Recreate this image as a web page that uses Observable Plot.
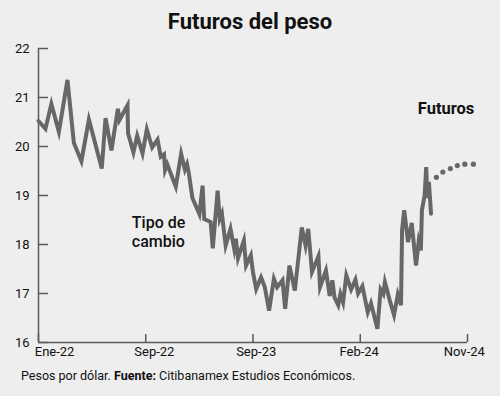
<!DOCTYPE html>
<html>
<head>
<meta charset="utf-8">
<script src="https://cdn.jsdelivr.net/npm/d3@7"></script>
<script src="https://cdn.jsdelivr.net/npm/@observablehq/plot@0.6"></script>
<style>
  html, body { margin: 0; padding: 0; background: #eeeeee; }
  #wrap { position: relative; width: 500px; height: 396px; background: #eeeeee; font-family: Roboto, "Noto Sans", sans-serif; color: #111; overflow: hidden; }
  #title { position: absolute; left: 0; top: 7px; width: 500px; text-align: center; font-size: 22px; font-weight: 700; line-height: 30px; }
  #chart { position: absolute; left: 0; top: 40px; }
  #caption { position: absolute; left: 21px; top: 368px; font-size: 12.5px; line-height: 16px; }
</style>
</head>
<body>
<div id="wrap">
  <div id="title">Futuros del peso</div>
  <div id="chart"></div>
  <div id="caption">Pesos por dólar. <b>Fuente:</b> Citibanamex Estudios Económicos.</div>
</div>
<script>
// Tipo de cambio (pesos por dólar), position along the evenly spaced axis (0 = Ene-22 ... 4 = Nov-24)
const pos = [0, 0.065, 0.12, 0.19, 0.27, 0.33, 0.40, 0.47, 0.59, 0.625, 0.68, 0.74, 0.755, 0.83, 0.835,
  0.885, 0.92, 0.97, 1.01, 1.06, 1.11, 1.14, 1.17, 1.18, 1.20, 1.28, 1.33, 1.365, 1.385, 1.40, 1.435,
  1.50, 1.53, 1.545, 1.605, 1.625, 1.67, 1.69, 1.71, 1.745, 1.79, 1.825, 1.84, 1.86, 1.915, 1.935,
  1.98, 2.00, 2.03, 2.075, 2.11, 2.15, 2.195, 2.225, 2.275, 2.30, 2.34, 2.39, 2.455, 2.49, 2.515,
  2.55, 2.61, 2.625, 2.68, 2.715, 2.74, 2.76, 2.795, 2.815, 2.84, 2.87, 2.915, 2.955, 2.98, 3.02,
  3.07, 3.10, 3.16, 3.19, 3.215, 3.23, 3.275, 3.315, 3.35, 3.38, 3.39, 3.41, 3.445, 3.48, 3.52,
  3.545, 3.565, 3.575, 3.60, 3.615, 3.625, 3.64, 3.66];
const rate = [20.52, 20.36, 20.87, 20.30, 21.36, 20.07, 19.70, 20.55, 19.55, 20.58, 19.92, 20.77, 20.54, 20.84, 20.27,
  19.88, 20.22, 19.86, 20.35, 19.98, 20.14, 19.79, 19.84, 19.52, 19.64, 19.18, 19.85, 19.53, 19.64, 19.48, 18.95,
  18.62, 19.20, 18.52, 18.46, 17.92, 19.10, 18.52, 18.63, 17.98, 18.32, 17.91, 18.12, 17.72, 18.08, 17.57,
  17.78, 17.43, 17.09, 17.33, 17.13, 16.65, 17.30, 17.13, 17.27, 16.69, 17.57, 17.06, 18.35, 17.98, 18.32,
  17.44, 17.76, 17.13, 17.47, 16.95, 17.27, 16.92, 16.76, 16.99, 16.82, 17.37, 17.08, 17.28, 17.00, 17.15,
  16.62, 16.80, 16.28, 17.08, 16.99, 17.23, 16.86, 16.56, 16.98, 16.76, 18.30, 18.70, 18.05, 18.44, 17.57,
  18.06, 17.88, 18.70, 19.00, 19.58, 18.95, 19.28, 18.63];

// Futuros
const futPos = [3.71, 3.77, 3.84, 3.905, 3.975, 4.055];
const futRate = [19.37, 19.48, 19.55, 19.61, 19.64, 19.64];

// Axes
const yTicks = [16, 17, 18, 19, 20, 21, 22];
const xTickPos = [0, 1, 2, 3, 4];
const xLabels = ["Ene-22", "Sep-22", "Sep-23", "Feb-24", "Nov-24"];
const xLabelPos = [0.15, 1.08, 2.03, 2.99, 3.97];

// Annotations
const noteText = ["Tipo de\ncambio", "Futuros"];
const notePos = [0.87, 3.80];
const noteRate = [18.60, 20.67];

const series = pos.map((p, i) => ({p, v: rate[i]}));
const futures = futPos.map((p, i) => ({p, v: futRate[i]}));
const xLab = xLabels.map((t, i) => ({p: xLabelPos[i], t}));
const notes = noteText.map((t, i) => ({p: notePos[i], v: noteRate[i], t}));

const axisColor = "#5a5a5a";
const lineColor = "#676767";

const chart = Plot.plot({
  width: 500,
  height: 325,
  marginLeft: 38,
  marginRight: 33,
  marginTop: 8,
  marginBottom: 23,
  style: {background: "transparent", fontFamily: "Roboto, sans-serif", color: "#111", overflow: "visible"},
  x: {domain: [0, 4], axis: null},
  y: {domain: [16, 22], axis: null},
  marks: [
    Plot.ruleX([0], {stroke: axisColor, strokeWidth: 1.5}),
    Plot.ruleY([16], {stroke: axisColor, strokeWidth: 1.5}),
    Plot.axisY(yTicks, {tickSize: -10, fill: "none", stroke: axisColor, strokeWidth: 1.5, label: null}),
    Plot.axisY(yTicks, {tickSize: 0, tickPadding: 9, fontSize: 13, fill: "#111", label: null}),
    Plot.axisX(xTickPos, {tickSize: -8, fill: "none", stroke: axisColor, strokeWidth: 1.5, label: null}),
    Plot.text(xLab, {x: "p", text: "t", frameAnchor: "bottom", lineAnchor: "top", dy: 4, fontSize: 13, fill: "#111"}),
    Plot.line(series, {x: "p", y: "v", stroke: lineColor, strokeWidth: 4, strokeLinejoin: "miter", strokeMiterlimit: 6}),
    Plot.dot(futures, {x: "p", y: "v", r: 2.6, fill: lineColor, stroke: null}),
    Plot.text(notes.slice(0, 1), {x: "p", y: "v", text: "t", textAnchor: "start", lineAnchor: "top", fontSize: 16, fontWeight: 500, lineHeight: 1.15, fill: "#111"}),
    Plot.text(notes.slice(1), {x: "p", y: "v", text: "t", textAnchor: "middle", lineAnchor: "bottom", fontSize: 16.5, fontWeight: 700, fill: "#111"})
  ]
});
document.getElementById("chart").appendChild(chart);
</script>
</body>
</html>
